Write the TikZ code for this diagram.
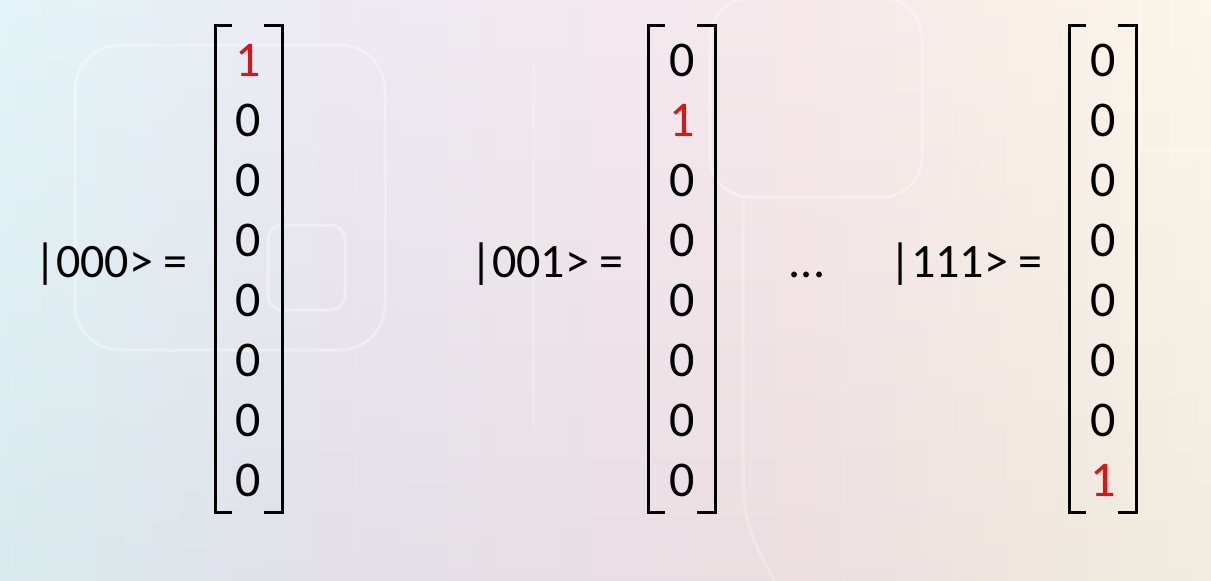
\documentclass[tikz,border=0pt]{standalone}
\usepackage{fontspec}
\setmainfont{Carlito}
\definecolor{bgcyan}{RGB}{224,244,247}
\definecolor{bglilac}{RGB}{236,232,242}
\definecolor{bgpink}{RGB}{246,231,234}
\definecolor{bgcream}{RGB}{251,246,230}
\definecolor{onered}{RGB}{228,18,18}
\begin{document}
\begin{tikzpicture}[x=1pt,y=-1pt,
    entry/.style={font=\fontsize{50}{54}\selectfont, inner sep=0pt},
    hot/.style={entry, text=onered},
    ket/.style={font=\fontsize{48}{52}\selectfont, inner sep=0pt, anchor=base east},
    brak/.style={line width=3pt},
    ghost/.style={draw=white, line width=3pt, opacity=0.35}]
    % slide background
    \useasboundingbox (0,0) rectangle (1211,581);
    \shade[left color=bgcyan, right color=bglilac] (0,0) rectangle (330,581);
    \shade[left color=bglilac, right color=bgpink] (330,0) rectangle (800,581);
    \shade[left color=bgpink, right color=bgcream] (800,0) rectangle (1211,581);
    \shade[top color=white, bottom color=gray, opacity=0.08] (0,0) rectangle (1211,581);
    \draw[ghost, rounded corners=45pt] (75,45) rectangle (385,350);
    \draw[ghost, rounded corners=15pt] (268,225) rectangle (345,310);
    \draw[ghost, rounded corners=40pt] (710,-2) rectangle (922,197);
    \draw[ghost, opacity=0.2] (533,65) -- (533,430);
    \draw[ghost, opacity=0.25] (743,200) -- (743,480) to[out=-90,in=120] (775,581);
    \draw[ghost, opacity=0.35] (1140,0) -- (1140,150) -- (1211,150);
    % |000>
    \node[ket] (k1) at (188,277) {|000> =};
    \node[hot] (a1) at (248,60) {1};
    \foreach \r in {2,...,8}
        \node[entry] (a\r) at (248,{60*\r}) {0};
    \draw[brak] (232,25) -| (215,512) -- (232,512);
    \draw[brak] (264,25) -| (282,512) -- (264,512);
    % |001>
    \node[ket] (k2) at (624,277) {|001> =};
    \node[hot] (b2) at (682,120) {1};
    \foreach \r in {1,3,4,5,6,7,8}
        \node[entry] (b\r) at (682,{60*\r}) {0};
    \draw[brak] (665,25) -| (648,512) -- (665,512);
    \draw[brak] (697,25) -| (715,512) -- (697,512);
    % dots
    \node[ket, anchor=base] (dots) at (807,277) {...};
    % |111>
    \node[ket] (k3) at (1043,277) {|111> =};
    \node[hot] (c8) at (1103,480) {1};
    \foreach \r in {1,...,7}
        \node[entry] (c\r) at (1103,{60*\r}) {0};
    \draw[brak] (1086,25) -| (1069,512) -- (1086,512);
    \draw[brak] (1118,25) -| (1136,512) -- (1118,512);
\end{tikzpicture}
\end{document}
